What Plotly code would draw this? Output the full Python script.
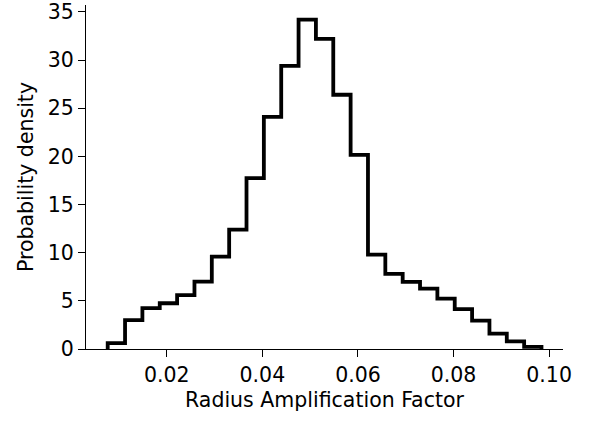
import numpy as np
import plotly.graph_objects as go

# Histogram data (probability density per bin)
bin_start = 0.00764
bin_end = 0.0984
n_bins = 25
densities = [0.6, 3.0, 4.25, 4.75, 5.6, 7.0, 9.6, 12.4, 17.75, 24.1,
             29.4, 34.2, 32.2, 26.4, 20.15, 9.8, 7.8, 6.96, 6.27, 5.24,
             4.14, 2.94, 1.6, 0.8, 0.23]
x_ticks = [0.02, 0.04, 0.06, 0.08, 0.10]
x_ticklabels = ["0.02", "0.04", "0.06", "0.08", "0.10"]
y_ticks = [0, 5, 10, 15, 20, 25, 30, 35]

edges = np.linspace(bin_start, bin_end, n_bins + 1)
xs = [edges[0]] + list(edges[:-1]) + [edges[-1]]
ys = [0] + densities + [0]

fig = go.Figure()
fig.add_trace(go.Scatter(
    x=xs, y=ys, mode="lines", line_shape="hv",
    line=dict(color="black", width=3.8), showlegend=False, hoverinfo="skip",
))

font = dict(family="DejaVu Sans", size=20.5, color="black")
fig.update_layout(
    width=590, height=421,
    margin=dict(l=86, r=27, t=5, b=71.5),
    paper_bgcolor="white", plot_bgcolor="white",
    font=font,
    xaxis=dict(
        range=[0.0031, 0.1029], tickvals=x_ticks, ticktext=x_ticklabels,
        showgrid=False, zeroline=False, showline=True, linecolor="black", linewidth=1.3,
        ticks="outside", ticklen=7, tickwidth=1.3, tickcolor="black",
        title=dict(text="Radius Amplification Factor", font=font, standoff=6),
        tickfont=font, automargin=False, ticklabeloverflow="allow",
    ),
    yaxis=dict(
        range=[0, 35.72], tickvals=y_ticks,
        showgrid=False, zeroline=False, showline=True, linecolor="black", linewidth=1.3,
        ticks="outside", ticklen=7, tickwidth=1.3, tickcolor="black",
        title=dict(text="Probability density", font=font, standoff=8),
        tickfont=font, automargin=False, ticklabeloverflow="allow",
    ),
)

fig.write_html("out.html", config={"displayModeBar": False},
               post_script="document.body.style.margin='0';")
